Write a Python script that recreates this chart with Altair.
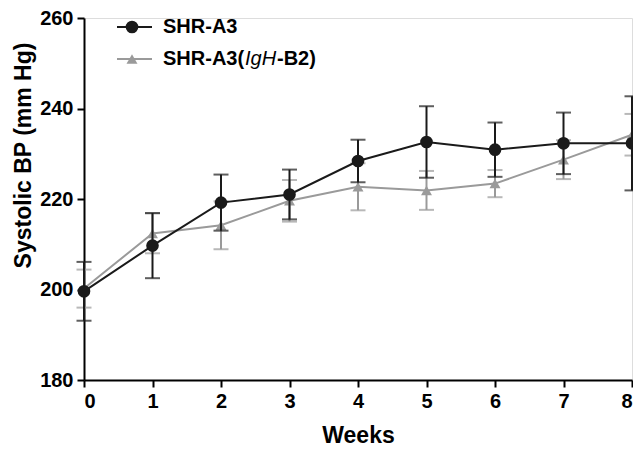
import altair as alt
import pandas as pd

weeks = [0, 1, 2, 3, 4, 5, 6, 7, 8]
series_names = ["SHR-A3", "SHR-A3(IgH-B2)"]
a3_mean = [199.6, 209.7, 219.2, 221.0, 228.4, 232.6, 230.9, 232.3, 232.3]
a3_err = [6.5, 7.2, 6.2, 5.5, 4.7, 7.9, 6.0, 6.8, 10.4]
b2_mean = [200.2, 212.4, 214.2, 219.6, 222.7, 221.9, 223.4, 228.7, 234.2]
b2_err = [4.2, 4.4, 5.3, 4.6, 5.2, 4.3, 3.0, 4.3, 4.6]
y_ticks = [180, 200, 220, 240, 260]

BLACK = "#1a1a1a"
GRAY = "#9a9a9a"

rows = []
for name, means, errs in [(series_names[0], a3_mean, a3_err), (series_names[1], b2_mean, b2_err)]:
    for w, m, e in zip(weeks, means, errs):
        rows.append({"series": name, "week": w, "mean": m, "lo": m - e, "hi": m + e})
df = pd.DataFrame(rows)

xs = alt.Scale(domain=[0, 8], nice=False)
ys = alt.Scale(domain=[180, 260], nice=False)
col = alt.Color("series:N", scale=alt.Scale(domain=series_names, range=[BLACK, GRAY]), legend=None)

x_axis = alt.Axis(values=weeks, title="Weeks", format="d", grid=False,
                  labelFontSize=20, labelFontWeight="bold", labelColor="black", labelPadding=4,
                  titleFontSize=23, titleFontWeight="bold", titleColor="black", titlePadding=13,
                  domainColor="black", domainWidth=2, tickColor="black", tickWidth=2, tickSize=7)
y_axis = alt.Axis(values=y_ticks, title="Systolic BP (mm Hg)", grid=False,
                  labelFontSize=20, labelFontWeight="bold", labelColor="black", labelPadding=4,
                  titleFontSize=23, titleFontWeight="bold", titleColor="black", titlePadding=4,
                  titleY=137,
                  domainColor="black", domainWidth=2, tickColor="black", tickWidth=2, tickSize=7)

base = alt.Chart(df)

def layers_for(name):
    d = base.transform_filter(alt.datum.series == name)
    x = alt.X("week:Q", scale=xs, axis=x_axis)
    y = alt.Y("mean:Q", scale=ys, axis=y_axis)
    line = d.mark_line(strokeWidth=2).encode(x=x, y=y, color=col)
    rule = d.mark_rule(strokeWidth=2).encode(x="week:Q", y="lo:Q", y2="hi:Q", color=col)
    cap_lo = d.mark_tick(orient="horizontal", size=15, thickness=2).encode(x="week:Q", y="lo:Q", color=col)
    cap_hi = d.mark_tick(orient="horizontal", size=15, thickness=2).encode(x="week:Q", y="hi:Q", color=col)
    if name == series_names[0]:
        pts = d.mark_point(shape="circle", filled=True, size=160, opacity=1).encode(x="week:Q", y="mean:Q", color=col)
    else:
        pts = d.mark_point(shape="triangle-up", filled=True, size=120, opacity=1).encode(x="week:Q", y="mean:Q", color=col)
    return [line, rule, cap_lo, cap_hi, pts]

font = "Liberation Sans"
lx1, lx2, lmx, ltx = 33, 68, 48, 79
ly1, ly2 = 9, 41

leg_line1 = alt.Chart().mark_rule(color=BLACK, strokeWidth=2).encode(x=alt.value(lx1), x2=alt.value(lx2), y=alt.value(ly1))
leg_pt1 = alt.Chart().mark_point(shape="circle", filled=True, size=160, color=BLACK, opacity=1).encode(x=alt.value(lmx), y=alt.value(ly1))
leg_line2 = alt.Chart().mark_rule(color=GRAY, strokeWidth=2).encode(x=alt.value(lx1), x2=alt.value(lx2), y=alt.value(ly2))
leg_pt2 = alt.Chart().mark_point(shape="triangle-up", filled=True, size=120, color=GRAY, opacity=1).encode(x=alt.value(lmx), y=alt.value(ly2))

def txt(s, x, y, style="normal", weight="bold"):
    return alt.Chart().mark_text(text=s, align="left", baseline="middle", font=font, fontSize=20,
                                 fontWeight=weight, fontStyle=style, color="black").encode(
        x=alt.value(x), y=alt.value(y))

legend = [leg_line1, leg_pt1, leg_line2, leg_pt2,
          txt("SHR-A3", ltx, ly1),
          txt("SHR-A3(", ltx, ly2),
          txt("IgH", ltx + 82, ly2, style="italic", weight="normal"),
          txt("-B2)", ltx + 114, ly2)]

chart = alt.layer(*layers_for(series_names[1]), *layers_for(series_names[0]), *legend).properties(
    width=548, height=362,
    autosize=alt.AutoSizeParams(type="none"),
    padding={"left": 76, "top": 10, "right": 1, "bottom": 66},
).configure_view(stroke=None).configure(font=font)

chart.save("out.html", embed_options={"renderer": "svg", "actions": False})
